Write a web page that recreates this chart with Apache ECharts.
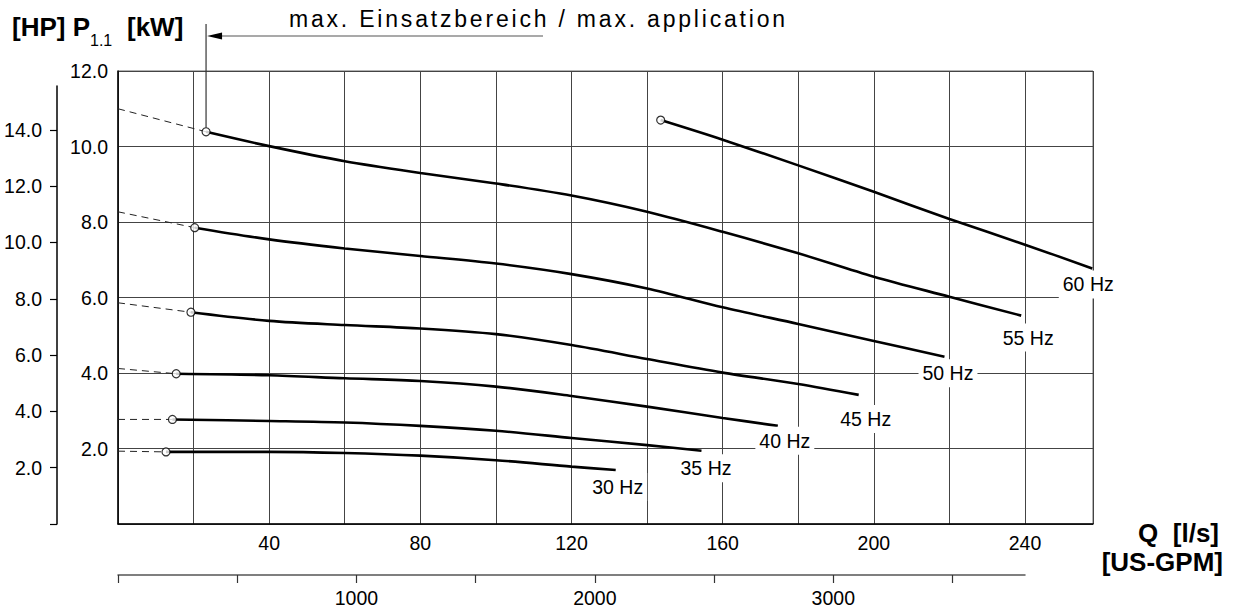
<!DOCTYPE html>
<html>
<head>
<meta charset="utf-8">
<title>P1.1 - Q</title>
<script src="https://cdn.jsdelivr.net/npm/echarts@6.0.0/dist/echarts.min.js"></script>
<style>
  html, body { margin: 0; padding: 0; background: #fff; }
  #myChart { width: 1235px; height: 612px; }
  /* header note is set with wide tracking in the original */
  #myChart text[style*="Arimo"] { letter-spacing: 2.8px; }
</style>
</head>
<body>
<div id="myChart"></div>
<script>
// Q [l/s] and P1.1 [kW], one pair per frequency
const q30 = [12.7, 40, 60, 80, 100, 120, 131.7]
const p30 = [1.91, 1.91, 1.88, 1.81, 1.69, 1.52, 1.43]
const q35 = [14.4, 40, 60, 80, 100, 120, 140, 154.4]
const p35 = [2.77, 2.73, 2.69, 2.60, 2.47, 2.28, 2.09, 1.94]
const q40 = [15.4, 40, 60, 80, 100, 120, 140, 160, 174.6]
const p40 = [3.98, 3.94, 3.86, 3.79, 3.64, 3.39, 3.11, 2.81, 2.60]
const q45 = [19.3, 40, 60, 80, 100, 120, 140, 160, 180, 196]
const p45 = [5.61, 5.38, 5.27, 5.18, 5.03, 4.74, 4.37, 4.01, 3.71, 3.42]
const q50 = [20.3, 40, 60, 80, 100, 120, 140, 160, 180, 200, 218.7]
const p50 = [7.85, 7.54, 7.30, 7.10, 6.90, 6.62, 6.24, 5.74, 5.30, 4.85, 4.43]
const q55 = [23.3, 40, 60, 80, 100, 120, 140, 160, 180, 200, 220, 239]
const p55 = [10.39, 10.01, 9.61, 9.30, 9.02, 8.70, 8.27, 7.74, 7.17, 6.55, 6.02, 5.52]
const q60 = [143.6, 160, 180, 200, 220, 240, 257.8]
const p60 = [10.70, 10.18, 9.50, 8.80, 8.08, 7.40, 6.77]

const hzNames = ['30 Hz', '35 Hz', '40 Hz', '45 Hz', '50 Hz', '55 Hz', '60 Hz']
// dashed extension back to Q = 0 (60 Hz has none)
const dashKwAtZero = [1.93, 2.77, 4.12, 5.86, 8.27, 11.0, null]

// tick labels
const qLabels = [40, 80, 120, 160, 200, 240]
const gpmTicks = [0, 500, 1000, 1500, 2000, 2500, 3000, 3500]
const gpmLabels = [1000, 2000, 3000]
const hpTicks = [0, 2, 4, 6, 8, 10, 12, 14]
const hpLabels = [2, 4, 6, 8, 10, 12, 14]

const qMax = 258
const kwMax = 12
const KW_PER_HP = 0.7457
const GPM_PER_LPS = 15.850

// layout
const GRID_LEFT = 118
const GRID_TOP = 71
const GRID_BOTTOM_Y = 524
const HP_TOP = 86
const hpMax = kwMax * (GRID_BOTTOM_Y - HP_TOP) / (GRID_BOTTOM_Y - GRID_TOP) / KW_PER_HP
const SANS = "'Liberation Sans', Arial, sans-serif"
const labelOffsets = [[2, 17], [4.5, 17.6], [7, 15], [7, 24], [3.5, 16.6], [7, 22], [-4, 16]]

const qs = [q30, q35, q40, q45, q50, q55, q60]
const ps = [p30, p35, p40, p45, p50, p55, p60]

const textBase = { fontFamily: SANS, fontSize: 19.5, lineHeight: 20, color: '#000' }

const series = []
qs.forEach((q, k) => {
  const p = ps[k]
  const last = q.length - 1
  series.push({
    name: hzNames[k],
    type: 'line',
    data: q.map((x, i) => [x, p[i]]),
    smooth: 0.3,
    symbol: 'none',
    clip: false,
    z: 3,
    lineStyle: { color: '#000', width: 2.6 },
    markPoint: {
      symbol: 'circle',
      symbolSize: 1,
      itemStyle: { color: 'rgba(0,0,0,0)' },
      label: Object.assign({
        show: true,
        position: 'inside',
        offset: labelOffsets[k],
        formatter: hzNames[k],
        backgroundColor: '#fff',
        padding: [4, 4]
      }, textBase),
      data: [{ name: hzNames[k], coord: [q[last], p[last]] }]
    }
  })
  if (dashKwAtZero[k] != null) {
    series.push({
      type: 'line',
      data: [[0, dashKwAtZero[k]], [q[0], p[0]]],
      symbol: 'none',
      z: 2,
      lineStyle: { color: '#222', width: 1, type: [7, 5] }
    })
  }
})
// open circles at the start of each curve
series.push({
  type: 'scatter',
  data: qs.map((q, k) => [q[0], ps[k][0]]),
  symbol: 'circle',
  symbolSize: 8,
  z: 5,
  itemStyle: { color: '#fff', borderColor: '#000', borderWidth: 1.2 }
})

const chart = echarts.init(document.getElementById('myChart'), null, { renderer: 'svg' })

const titleBold = { fontFamily: SANS, fontWeight: 'bold', fontSize: 26, lineHeight: 26, color: '#000' }

chart.setOption({
  animation: false,
  backgroundColor: '#fff',
  title: [
    { text: '[HP] P', left: 12, top: 13.5, padding: 0, textStyle: titleBold },
    { text: '1.1', left: 90, top: 32, padding: 0, textStyle: { fontFamily: SANS, fontWeight: 'normal', fontSize: 16, lineHeight: 16, color: '#000' } },
    { text: '[kW]', left: 127, top: 13.5, padding: 0, textStyle: titleBold },
    { text: 'max. Einsatzbereich / max. application', left: 289, top: 7, padding: 0,
      textStyle: { fontFamily: "'Liberation Sans', Arimo, sans-serif", fontWeight: 'normal', fontSize: 23, lineHeight: 23, color: '#000' } },
    { text: 'Q  [l/s]', right: 16, top: 520, padding: 0, textStyle: titleBold },
    { text: '[US-GPM]', right: 12, top: 549, padding: 0, textStyle: titleBold }
  ],
  grid: [
    { left: GRID_LEFT, top: GRID_TOP, right: 142, bottom: 612 - GRID_BOTTOM_Y, show: true, borderColor: '#666', borderWidth: 1, outerBoundsMode: 'none' },
    { left: 57, top: HP_TOP, bottom: 612 - GRID_BOTTOM_Y, width: 1, outerBoundsMode: 'none' },
    { left: GRID_LEFT, width: 907, top: 560, bottom: 37, outerBoundsMode: 'none' }
  ],
  xAxis: [
    {
      gridIndex: 0, type: 'value', min: 0, max: qMax, interval: 20,
      axisLine: { show: true, lineStyle: { color: '#000', width: 1.5 } },
      axisTick: { show: false },
      splitLine: { show: true, lineStyle: { color: '#444', width: 1 } },
      axisLabel: Object.assign({ margin: 9, formatter: v => qLabels.includes(v) ? String(v) : '' }, textBase)
    },
    { gridIndex: 1, type: 'value', show: false },
    {
      gridIndex: 2, type: 'value', min: 0, max: 240 * GPM_PER_LPS, position: 'bottom',
      axisLine: { show: true, onZero: false, lineStyle: { color: '#555', width: 1.5 } },
      axisTick: { show: true, customValues: gpmTicks, length: 8, lineStyle: { color: '#333', width: 1.2 } },
      splitLine: { show: false },
      axisLabel: Object.assign({ margin: 13, customValues: gpmLabels, formatter: v => String(v) }, textBase)
    }
  ],
  yAxis: [
    {
      gridIndex: 0, type: 'value', min: 0, max: kwMax, interval: 2,
      axisLine: { show: true, lineStyle: { color: '#000', width: 1.5 } },
      axisTick: { show: false },
      splitLine: { show: true, lineStyle: { color: '#444', width: 1 } },
      axisLabel: Object.assign({
        margin: 10, verticalAlign: 'middle', padding: [19, 0, 0, 0],
        formatter: v => v > 0 ? v.toFixed(1) : ''
      }, textBase)
    },
    {
      gridIndex: 1, type: 'value', min: 0, max: hpMax, position: 'left',
      axisLine: { show: true, onZero: false, lineStyle: { color: '#000', width: 1.5 } },
      axisTick: { show: true, customValues: hpTicks, length: 7, lineStyle: { color: '#000', width: 1.2 } },
      splitLine: { show: false },
      axisLabel: Object.assign({ margin: 15, customValues: hpLabels, formatter: v => v.toFixed(1) }, textBase)
    },
    { gridIndex: 2, type: 'value', show: false }
  ],
  series: series
})

// "max. application" marker: vertical line up from the 55 Hz start, arrow pointing at it
const anchor = chart.convertToPixel({ gridIndex: 0 }, [q55[0], p55[0]])
const ax = anchor[0]
chart.setOption({
  graphic: [
    { type: 'line', silent: true, shape: { x1: ax, y1: 24, x2: ax, y2: anchor[1] - 4 }, style: { stroke: '#333', lineWidth: 1.2 } },
    { type: 'line', silent: true, shape: { x1: 543, y1: 36, x2: ax + 14, y2: 36 }, style: { stroke: '#555', lineWidth: 1.2 } },
    { type: 'polygon', silent: true, shape: { points: [[ax + 1, 36], [ax + 16, 32.5], [ax + 16, 39.5]] }, style: { fill: '#000' } }
  ]
})
</script>
</body>
</html>
